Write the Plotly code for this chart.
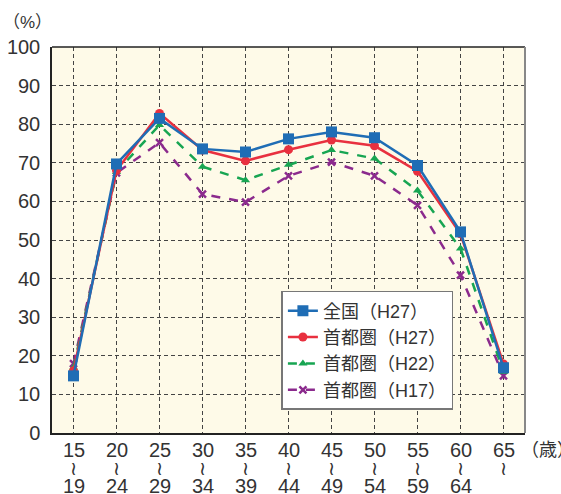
import plotly.graph_objects as go

# ── data ──────────────────────────────────────────────
AGE_FROM = ["15", "20", "25", "30", "35", "40", "45", "50", "55", "60", "65"]
AGE_TO = ["19", "24", "29", "34", "39", "44", "49", "54", "59", "64", ""]

zenkoku_h27 = [14.8, 69.7, 81.5, 73.6, 72.8, 76.2, 78.0, 76.5, 69.3, 52.1, 16.9]
shutoken_h27 = [16.1, 68.0, 82.8, 73.3, 70.5, 73.4, 75.9, 74.4, 67.8, 51.6, 17.9]
shutoken_h22 = [17.0, 67.6, 79.8, 69.0, 65.5, 69.5, 73.3, 71.1, 62.8, 47.8, 15.9]
shutoken_h17 = [18.0, 67.4, 75.2, 61.9, 59.8, 66.6, 70.2, 66.6, 59.0, 40.9, 14.8]

SERIES = [
    ("全国（H27）", zenkoku_h27, "#1f6db5", "solid", "square", 11),
    ("首都圏（H27）", shutoken_h27, "#e8303f", "solid", "circle", 9),
    ("首都圏（H22）", shutoken_h22, "#17a552", "dash", "triangle-up", 8),
    ("首都圏（H17）", shutoken_h17, "#8b2a8d", "dash", "x-thin-open", 7),
]

FONT = "Liberation Sans, Arial, Noto Sans CJK JP, sans-serif"
TEXT_COLOR = "#333333"

x_idx = list(range(len(AGE_FROM)))

fig = go.Figure()
# draw back-to-front so the national line sits on top
for name, vals, color, dash, symbol, size in reversed(SERIES):
    marker = dict(symbol=symbol, size=size, color=color)
    if symbol.startswith("x"):
        marker["line"] = dict(color=color, width=2.5)
    fig.add_trace(go.Scatter(
        x=x_idx, y=vals, name=name, mode="lines+markers",
        line=dict(color=color, width=2.5, dash=dash),
        marker=marker,
    ))

# ── x tick labels (stacked "15 / ≀ / 19") ─────────────
annotations = []
for i, (a, b) in enumerate(zip(AGE_FROM, AGE_TO)):
    for txt, shift in ((a, -17), ("≀", -35), (b, -53)):
        if not txt:
            continue
        annotations.append(dict(
            x=i, y=0, xref="x", yref="paper", text=txt, showarrow=False,
            yshift=shift, yanchor="middle", xanchor="center",
            font=dict(size=20 if txt != "≀" else 19, color=TEXT_COLOR, family=FONT),
        ))
annotations.append(dict(
    x=1.0, y=0, xref="paper", yref="paper", text="（歳）", showarrow=False,
    xanchor="left", yanchor="middle", yshift=-17, xshift=-6,
    font=dict(size=18, color=TEXT_COLOR, family=FONT),
))
annotations.append(dict(
    x=0, y=1, xref="paper", yref="paper", text="（%）", showarrow=False,
    xanchor="center", yanchor="middle", yshift=25, xshift=-25,
    font=dict(size=17, color=TEXT_COLOR, family=FONT),
))

fig.update_layout(
    width=561, height=494,
    margin=dict(l=52, r=36, t=47, b=61, autoexpand=False),
    paper_bgcolor="white",
    plot_bgcolor="#fefae8",
    font=dict(family=FONT, color=TEXT_COLOR),
    showlegend=True,
    legend=dict(
        x=0.485, y=0.368, xanchor="left", yanchor="top",
        bgcolor="white", bordercolor="#777777", borderwidth=1.5,
        font=dict(size=18, color=TEXT_COLOR, family=FONT),
        traceorder="reversed",
        itemwidth=30,
        tracegroupgap=2,
    ),
    annotations=annotations,
    shapes=[
        dict(type="line", xref="paper", yref="paper", x0=0, x1=1, y0=1, y1=1,
             line=dict(color="#222222", width=1.5)),
        dict(type="line", xref="paper", yref="paper", x0=1, x1=1, y0=0, y1=1,
             line=dict(color="#888888", width=2)),
    ],
)

fig.update_xaxes(
    range=[-0.5, 10.5], tickvals=x_idx, showticklabels=False,
    showgrid=True, gridcolor="#444444", griddash="4px,3px", gridwidth=1,
    showline=True, linecolor="#222222", linewidth=1.5,
    zeroline=False, ticks="", automargin=False,
)
fig.update_yaxes(
    range=[0, 100], dtick=10,
    showgrid=True, gridcolor="#444444", griddash="4px,3px", gridwidth=1,
    showline=True, linecolor="#222222", linewidth=1.5,
    zeroline=False, ticks="", automargin=False, ticklabelstandoff=6,
    tickfont=dict(size=20, color=TEXT_COLOR, family=FONT),
)

# the page body has an 8px default margin; drop it so the figure fills the window
fig.write_html(
    "out.html",
    config={"displayModeBar": False},
    post_script="document.body.style.margin='0';document.body.style.overflow='hidden';",
)
